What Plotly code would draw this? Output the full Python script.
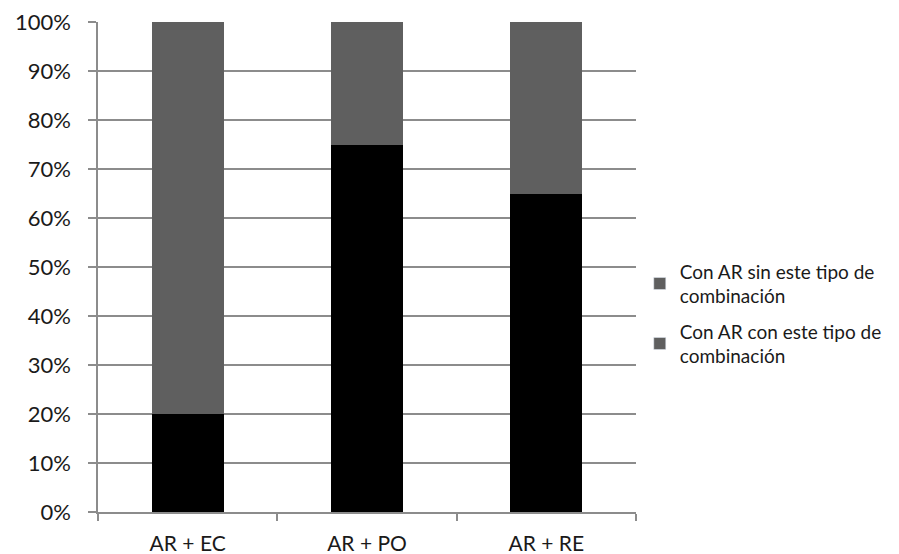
import plotly.graph_objects as go

categories = ["AR + EC", "AR + PO", "AR + RE"]
con_values = [20, 75, 65]
sin_values = [80, 25, 35]
series_names = ["Con AR sin este tipo de<br>combinación", "Con AR con este tipo de<br>combinación"]
y_ticks = [0, 10, 20, 30, 40, 50, 60, 70, 80, 90, 100]
y_tick_labels = [f"{v}%" for v in y_ticks]

BLACK = "#000000"
GRAY = "#5f5f5f"
FONT = "Lato, Open Sans, sans-serif"

fig = go.Figure()
fig.add_trace(go.Bar(x=categories, y=con_values, marker=dict(color=BLACK, line=dict(width=0)),
                     width=0.4, showlegend=False))
fig.add_trace(go.Bar(x=categories, y=sin_values, marker=dict(color=GRAY, line=dict(width=0)),
                     width=0.4, showlegend=False))
# legend entries (both shown with gray swatches as in the original)
legend_ids = ["legend", "legend2"]
for name, lid in zip(series_names, legend_ids):
    fig.add_trace(go.Bar(x=[None], y=[None], name=name, marker=dict(color=GRAY),
                         showlegend=True, legend=lid))

legend_style = dict(xanchor="left", yanchor="top", font=dict(size=19, family=FONT),
                    itemwidth=30, bgcolor="rgba(0,0,0,0)")
fig.update_layout(
    barmode="stack",
    width=899, height=554,
    margin=dict(l=98, r=263, t=22, b=42, autoexpand=False),
    paper_bgcolor="white", plot_bgcolor="white",
    font=dict(family=FONT, color="#1a1a1a"),
    legend=dict(x=1.007, y=0.53, **legend_style),
    legend2=dict(x=1.007, y=0.4076, **legend_style),
)
fig.update_xaxes(
    type="category", showline=True, linecolor="#8c8c8c", linewidth=1.5,
    ticks="outside", tickson="boundaries", ticklen=7, tickcolor="#8c8c8c", tickwidth=1.5,
    tickfont=dict(size=21, family=FONT), showgrid=False, ticklabelstandoff=12,
    automargin=False,
)
fig.update_yaxes(
    range=[0, 100.02], tickvals=y_ticks, ticktext=y_tick_labels,
    showline=True, linecolor="#8c8c8c", linewidth=1.5,
    ticks="outside", ticklen=8, tickcolor="#8c8c8c", tickwidth=1.5,
    showgrid=True, gridcolor="#8c8c8c", gridwidth=1.5,
    tickfont=dict(size=22, family=FONT), zeroline=False, ticklabelstandoff=13,
    ticklabeloverflow="allow", automargin=False,
)
fig.write_html("out.html", config={"displayModeBar": False},
               post_script="document.body.style.margin='0';document.body.style.overflow='hidden';")
